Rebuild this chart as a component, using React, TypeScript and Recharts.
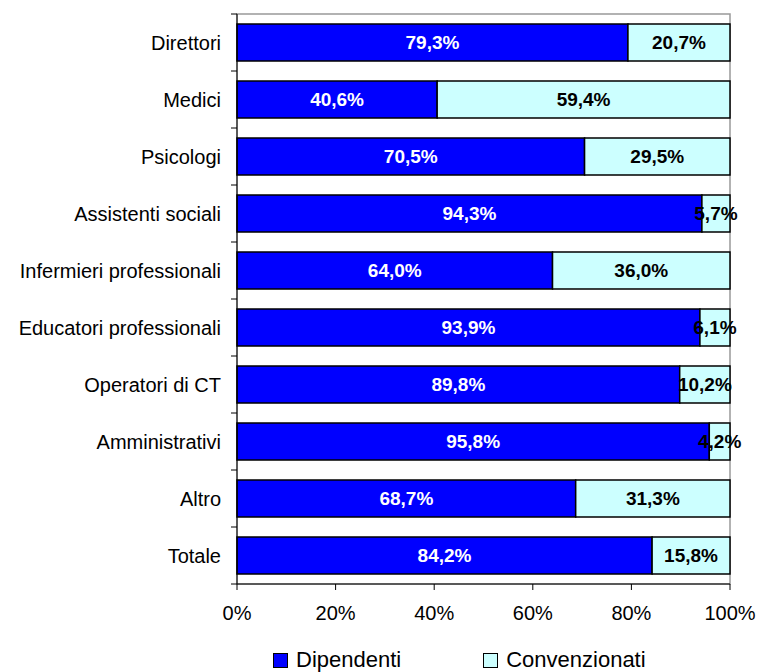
import React from 'react';
import {
  BarChart,
  Bar,
  XAxis,
  YAxis,
  Legend,
  LabelList,
  ReferenceArea,
} from 'recharts';

const categories = [
  'Direttori',
  'Medici',
  'Psicologi',
  'Assistenti sociali',
  'Infermieri professionali',
  'Educatori professionali',
  'Operatori di CT',
  'Amministrativi',
  'Altro',
  'Totale',
];
const dipendenti = [79.3, 40.6, 70.5, 94.3, 64.0, 93.9, 89.8, 95.8, 68.7, 84.2];
const convenzionati = [20.7, 59.4, 29.5, 5.7, 36.0, 6.1, 10.2, 4.2, 31.3, 15.8];
const xTicks = [0, 20, 40, 60, 80, 100];

const FONT = '"Liberation Sans", Arial, sans-serif';
const BLUE = '#0000FF';
const CYAN = '#CCFFFF';

const data = categories.map((name, i) => ({
  name,
  dipendenti: dipendenti[i],
  convenzionati: convenzionati[i],
}));

const fmt = (v: any) => `${Number(v).toFixed(1).replace('.', ',')}%`;

function CategoryTick(props: any) {
  const { x, y, payload, index, visibleTicksCount } = props;
  const half = payload && payload.offset ? payload.offset : 28.5;
  const isLast = index === visibleTicksCount - 1;
  return (
    <g>
      <line x1={x + 10} x2={x + 16} y1={y - half} y2={y - half} stroke="#000" />
      {isLast && <line x1={x + 10} x2={x + 16} y1={y + half} y2={y + half} stroke="#000" />}
      <text
        x={x}
        y={y}
        textAnchor="end"
        dominantBaseline="central"
        fill="#000"
        fontSize={20}
        fontFamily={FONT}
      >
        {payload.value}
      </text>
    </g>
  );
}

function LegendBox() {
  const item = (color: string, label: string, mr: number) => (
    <div style={{ display: 'flex', alignItems: 'center', marginRight: mr }}>
      <span
        style={{
          display: 'inline-block',
          width: 13,
          height: 13,
          background: color,
          border: '1px solid #000',
          marginRight: 8,
        }}
      />
      <span style={{ fontSize: 22, color: '#000', fontFamily: FONT }}>{label}</span>
    </div>
  );
  return (
    <div style={{ display: 'flex', alignItems: 'center', paddingLeft: 273, height: 40, paddingTop: 16, boxSizing: 'border-box' }}>
      {item(BLUE, 'Dipendenti', 82)}
      {item(CYAN, 'Convenzionati', 0)}
    </div>
  );
}

export default function App() {
  return (
    <div style={{ position: 'absolute', left: 0, top: 0, background: '#fff', fontFamily: FONT }}>
      <BarChart
        width={757}
        height={672}
        data={data}
        layout="vertical"
        margin={{ top: 14, right: 27, left: 0, bottom: 0 }}
        barCategoryGap={20}
      >
        <ReferenceArea x1={0} x2={100} fill="none" stroke="#999" strokeWidth={1.5} />
        <XAxis
          type="number"
          domain={[0, 100]}
          ticks={xTicks}
          tickFormatter={(v) => `${v}%`}
          height={48}
          tickSize={6}
          tickMargin={16}
          stroke="#000"
          tick={{ fill: '#000', fontSize: 20, fontFamily: FONT }}
          interval={0}
        />
        <YAxis
          type="category"
          dataKey="name"
          width={237}
          tickSize={6}
          tickMargin={10}
          tickLine={false}
          stroke="#000"
          tick={<CategoryTick />}
          interval={0}
        />
        <Legend verticalAlign="bottom" height={40} content={() => <LegendBox />} />
        <Bar
          dataKey="dipendenti"
          stackId="a"
          fill={BLUE}
          stroke="#000"
          strokeWidth={1.5}
          barSize={37}
          isAnimationActive={false}
        >
          <LabelList
            dataKey="dipendenti"
            position="center"
            formatter={fmt}
            fill="#fff"
            fontSize={19}
            fontWeight="bold"
            fontFamily={FONT}
          />
        </Bar>
        <Bar
          dataKey="convenzionati"
          stackId="a"
          fill={CYAN}
          stroke="#000"
          strokeWidth={1.5}
          barSize={37}
          isAnimationActive={false}
        >
          <LabelList
            dataKey="convenzionati"
            position="center"
            formatter={fmt}
            fill="#000"
            fontSize={19}
            fontWeight="bold"
            fontFamily={FONT}
          />
        </Bar>
      </BarChart>
    </div>
  );
}
